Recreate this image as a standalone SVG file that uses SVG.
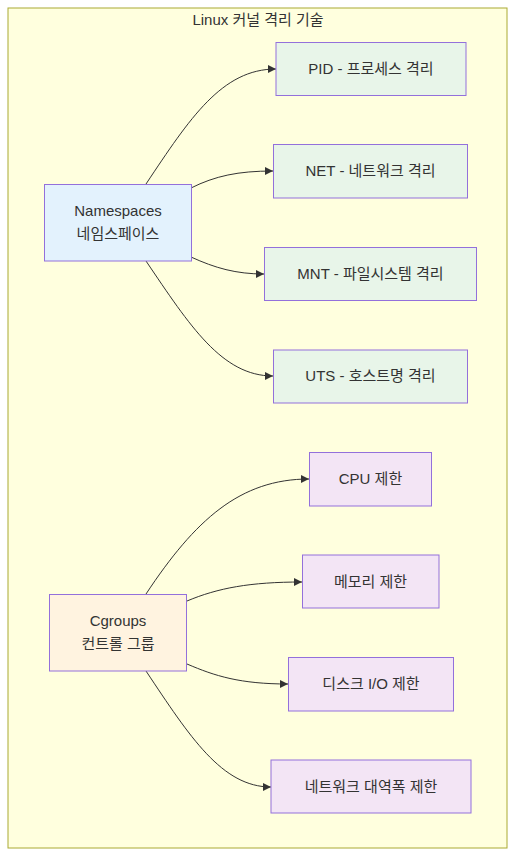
<svg xmlns="http://www.w3.org/2000/svg" width="529" height="868" viewBox="0 0 529 868">
<style>
text{font-family:"Liberation Sans","Noto Sans CJK KR",sans-serif;font-size:15px;fill:#333;text-anchor:middle}
.ns rect{fill:#e3f2fd}
.nsc rect{fill:#e8f5e9}
.cg rect{fill:#fff3e0}
.cgc rect{fill:#f3e5f5}
.node rect{stroke:#9370db;stroke-width:1}
.edge{fill:none;stroke:#333;stroke-width:1}
</style>
<defs>
<marker id="arr" viewBox="0 0 10 10" refX="10" refY="5" markerWidth="8" markerHeight="8" markerUnits="userSpaceOnUse" orient="auto">
<path d="M0,0 L10,5 L0,10 z" fill="#333"/>
</marker>
</defs>
<rect width="529" height="868" fill="#ffffff"/>
<g id="cluster">
<rect x="8" y="8" width="499" height="840" fill="#ffffde" stroke="#aaaa33" stroke-width="1"/>
<text x="258" y="25">Linux 커널 격리 기술</text>
</g>
<g id="connectors">
<path class="edge" d="M146,184 C190,118 222,69 276,69" marker-end="url(#arr)"/>
<path class="edge" d="M191,188 C215,176 238,171 273,171" marker-end="url(#arr)"/>
<path class="edge" d="M191,257 C215,268 236,274 264,274" marker-end="url(#arr)"/>
<path class="edge" d="M146,261 C190,326 222,376 273,376" marker-end="url(#arr)"/>
<path class="edge" d="M146,594 C195,520 240,479 309,479" marker-end="url(#arr)"/>
<path class="edge" d="M187,601 C218,588 250,582 302,582" marker-end="url(#arr)"/>
<path class="edge" d="M187,664 C215,676 240,684 288,684" marker-end="url(#arr)"/>
<path class="edge" d="M146,671 C190,737 222,787 271,787" marker-end="url(#arr)"/>
</g>
<g id="namespaces" class="node ns">
<rect x="44.5" y="184.5" width="147" height="76.5"/>
<text x="118" y="216">Namespaces</text>
<text x="118" y="239">네임스페이스</text>
</g>
<g id="pid" class="node nsc">
<rect x="276" y="42.5" width="190" height="53"/>
<text x="371" y="74">PID - 프로세스 격리</text>
</g>
<g id="net" class="node nsc">
<rect x="273.5" y="144.5" width="194" height="53.5"/>
<text x="370.5" y="176">NET - 네트워크 격리</text>
</g>
<g id="mnt" class="node nsc">
<rect x="264.5" y="247.5" width="212" height="53"/>
<text x="370.5" y="279">MNT - 파일시스템 격리</text>
</g>
<g id="uts" class="node nsc">
<rect x="273.5" y="350" width="194" height="53"/>
<text x="370.5" y="381">UTS - 호스트명 격리</text>
</g>
<g id="cgroups" class="node cg">
<rect x="49.5" y="594.5" width="137" height="76.5"/>
<text x="118" y="626">Cgroups</text>
<text x="118" y="649">컨트롤 그룹</text>
</g>
<g id="cpu" class="node cgc">
<rect x="309.5" y="452.5" width="122" height="53.5"/>
<text x="370.5" y="484">CPU 제한</text>
</g>
<g id="mem" class="node cgc">
<rect x="302.5" y="555" width="136.5" height="53"/>
<text x="370.5" y="587">메모리 제한</text>
</g>
<g id="disk" class="node cgc">
<rect x="288.5" y="657.5" width="165" height="53.5"/>
<text x="371" y="689">디스크 I/O 제한</text>
</g>
<g id="bw" class="node cgc">
<rect x="271" y="760" width="200" height="53"/>
<text x="371" y="792">네트워크 대역폭 제한</text>
</g>
</svg>
